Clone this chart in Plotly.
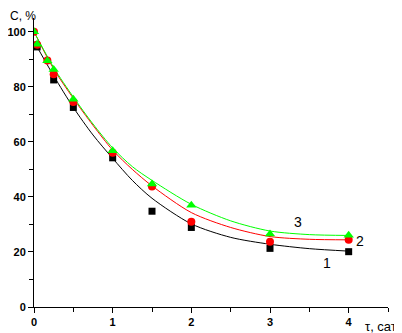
import plotly.graph_objects as go

# measured points
tau_pts = [0, 0.04, 0.17, 0.25, 0.5, 1, 1.5, 2, 3, 4]
c1_pts = [None, 94.5, None, 82.5, 72.5, 54.2, 34.8, 28.9, 21.3, 20.1]
c2_pts = [100, 95.3, 89.6, 84.6, 74.5, 56.0, 43.8, 31.0, 23.7, 24.4]
c3_pts = [100, 95.5, 89.5, 86.3, 75.5, 56.8, 44.7, 37.0, 26.5, 26.1]

# fitted curves
tau_fit = [0, 0.25, 0.5, 0.75, 1, 1.25, 1.5, 2, 2.5, 3, 3.5, 4]
c1_fit = [96.5, 84.0, 72.5, 62.5, 54.0, 46.0, 39.5, 30.2, 25.3, 22.8, 21.2, 20.3]
c2_fit = [100, 86.5, 75.8, 66.0, 57.0, 50.0, 44.0, 34.3, 28.9, 25.6, 24.6, 24.4]
c3_fit = [100, 87.0, 76.3, 66.5, 57.8, 51.0, 46.0, 37.3, 31.3, 27.6, 26.3, 26.0]

curve_labels = ["1", "2", "3"]
label_pos = [(3.72, 16), (4.15, 24), (3.35, 31)]

BLACK, RED, GREEN = "#000000", "#ff0000", "#00ff00"
FONT = "Liberation Sans, Arial, sans-serif"

fig = go.Figure()

for y, col in [(c1_fit, BLACK), (c2_fit, RED), (c3_fit, GREEN)]:
    fig.add_trace(go.Scatter(
        x=tau_fit, y=y, mode="lines",
        line=dict(color=col, width=1, shape="spline", smoothing=0.8),
        showlegend=False, hoverinfo="skip",
    ))

for y, col, sym, size in [
    (c1_pts, BLACK, "square", 7),
    (c2_pts, RED, "circle", 8),
    (c3_pts, GREEN, "triangle-up", 9),
]:
    fig.add_trace(go.Scatter(
        x=tau_pts, y=y, mode="markers",
        marker=dict(color=col, symbol=sym, size=size, line_width=0),
        showlegend=False,
    ))

for txt, (xx, yy) in zip(curve_labels, label_pos):
    fig.add_annotation(
        x=xx, y=yy, text=txt, showarrow=False,
        font=dict(family=FONT, size=14, color="#000000"),
    )

fig.add_annotation(
    xref="paper", yref="paper", x=-0.07, y=1.0346, xanchor="left",
    yanchor="top", text="C, %", showarrow=False, borderpad=0,
    font=dict(family=FONT, size=12, color="#000000"),
)
fig.add_annotation(
    xref="paper", yref="paper", x=1.03, y=-0.035, xanchor="right",
    yanchor="top", text="τ, сат", showarrow=False,
    font=dict(family=FONT, size=13, color="#000000"),
)

axis_common = dict(
    showgrid=False, zeroline=False, showline=True, linecolor="#000000",
    linewidth=1, ticks="outside", ticklen=5, tickcolor="#000000",
    automargin=False,
    tickfont=dict(family=FONT, size=11, color="#000000", weight="bold"),
)

# page body has an 8px margin, so the figure is sized to fit inside it
fig.update_layout(
    width=394, height=325,
    margin=dict(l=26, r=14, t=10, b=26),
    plot_bgcolor="white", paper_bgcolor="white",
    xaxis=dict(
        range=[0, 4.5], tickvals=[0, 1, 2, 3, 4],
        minor=dict(tickvals=[0.5, 1.5, 2.5, 3.5, 4.5], ticks="outside",
                   ticklen=4, tickcolor="#000000"),
        **axis_common,
    ),
    yaxis=dict(
        range=[0, 105], tickvals=[0, 20, 40, 60, 80, 100],
        minor=dict(tickvals=[10, 30, 50, 70, 90], ticks="outside",
                   ticklen=4, tickcolor="#000000"),
        **axis_common,
    ),
)

fig.write_html("out.html")
